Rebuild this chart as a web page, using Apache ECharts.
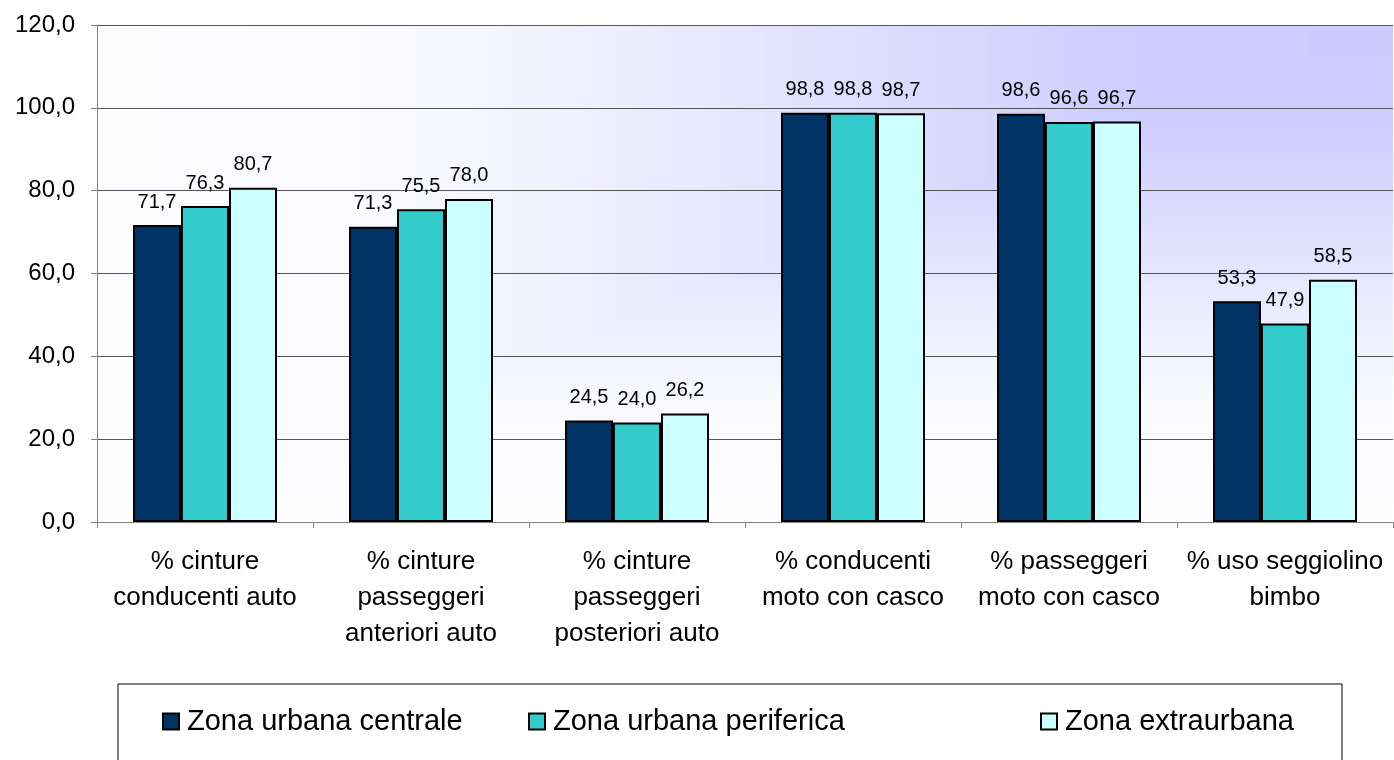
<!DOCTYPE html>
<html lang="it">
<head>
    <meta charset="UTF-8">
    <title>Uso dispositivi di sicurezza</title>
    <script src="https://cdn.jsdelivr.net/npm/echarts@6/dist/echarts.min.js"></script>
    <style>
        html, body { margin: 0; padding: 0; background: #fff; }
        #chart { width: 1394px; height: 760px; }
    </style>
</head>
<body>
<div id="chart"></div>
<script>
    // dati
    const categories = [
        '% cinture\nconducenti auto',
        '% cinture\npasseggeri\nanteriori auto',
        '% cinture\npasseggeri\nposteriori auto',
        '% conducenti\nmoto con casco',
        '% passeggeri\nmoto con casco',
        '% uso seggiolino\nbimbo'
    ];
    const seriesNames = ['Zona urbana centrale', 'Zona urbana periferica', 'Zona extraurbana'];
    const urbanaCentrale = [71.7, 71.3, 24.5, 98.8, 98.6, 53.3];
    const urbanaPeriferica = [76.3, 75.5, 24.0, 98.8, 96.6, 47.9];
    const extraurbana = [80.7, 78.0, 26.2, 98.7, 96.7, 58.5];
    const yTicks = [0, 20, 40, 60, 80, 100, 120];

    const colors = ['#003366', '#33cccc', '#ccffff'];
    const fontFamily = '"Liberation Sans", Arial, sans-serif';
    const fmt = v => v.toFixed(1).replace('.', ',');

    // area del grafico (px)
    const plot = { left: 97, top: 25, right: 1393, bottom: 522 };

    // sfondo sfumato "dall'angolo" (in alto a destra lilla, verso il bianco)
    function cornerGradient(w, h) {
        const c = document.createElement('canvas');
        c.width = w; c.height = h;
        const ctx = c.getContext('2d');
        const img = ctx.createImageData(w, h);
        const stops = [[0, 1], [0.2, 0.97], [0.4, 0.66], [0.56, 0.4], [0.75, 0.13], [0.9, 0.06], [1, 0.04]];
        const f = d => {
            for (let i = 1; i < stops.length; i++) {
                if (d <= stops[i][0]) {
                    const a = stops[i - 1], b = stops[i];
                    return a[1] + (b[1] - a[1]) * (d - a[0]) / (b[0] - a[0]);
                }
            }
            return stops[stops.length - 1][1];
        };
        for (let y = 0; y < h; y++) {
            for (let x = 0; x < w; x++) {
                const d = Math.max((w - x) / w, y / h);
                const k = f(d);
                const i = (y * w + x) * 4;
                img.data[i] = Math.round(255 - 51 * k);
                img.data[i + 1] = Math.round(255 - 51 * k);
                img.data[i + 2] = 255;
                img.data[i + 3] = 255;
            }
        }
        ctx.putImageData(img, 0, 0);
        return c;
    }

    const chart = echarts.init(document.getElementById('chart'));

    function makeSeries(name, data, color) {
        return {
            name: name,
            type: 'bar',
            data: data,
            barWidth: 48,
            barGap: '0%',
            itemStyle: { color: color, borderColor: '#000', borderWidth: 2 },
            label: {
                show: true,
                position: 'top',
                distance: 13,
                color: '#000',
                fontSize: 20,
                fontFamily: fontFamily,
                formatter: p => fmt(p.value)
            }
        };
    }

    // una legenda per voce, per posizionarle come nell'originale
    const legendLefts = [162, 528, 1040];

    const option = {
        backgroundColor: '#fff',
        animation: false,
        textStyle: { fontFamily: fontFamily },
        grid: {
            left: plot.left, right: 1394 - plot.right, top: plot.top, bottom: 760 - plot.bottom,
            show: false
        },
        graphic: [{
            type: 'image',
            z: -10,
            silent: true,
            style: {
                image: cornerGradient(plot.right - plot.left, plot.bottom - plot.top),
                x: plot.left, y: plot.top
            }
        }, {
            type: 'rect',
            shape: { x: 118, y: 684, width: 1224, height: 120 },
            style: { fill: '#fff', stroke: '#000', lineWidth: 1 },
            z: -10
        }],
        legend: seriesNames.map((n, i) => ({
            data: [n],
            left: legendLefts[i],
            top: 707,
            itemWidth: 16,
            itemHeight: 16,
            itemGap: 0,
            padding: 0,
            textStyle: { fontSize: 29, color: '#000', fontFamily: fontFamily, padding: [0, 0, 0, 3] },
            icon: 'rect'
        })),
        xAxis: {
            type: 'category',
            data: categories,
            axisLine: { lineStyle: { color: '#808080', width: 1 } },
            axisTick: { show: true, length: 6, interval: 0, lineStyle: { color: '#808080' } },
            axisLabel: {
                interval: 0,
                margin: 22,
                fontSize: 26,
                lineHeight: 36,
                color: '#000',
                fontFamily: fontFamily
            },
            splitLine: { show: false }
        },
        yAxis: {
            type: 'value',
            min: yTicks[0],
            max: yTicks[yTicks.length - 1],
            interval: 20,
            axisLine: { show: true, lineStyle: { color: '#808080', width: 1 } },
            axisTick: { show: true, length: 6, lineStyle: { color: '#808080' } },
            axisLabel: {
                margin: 22,
                fontSize: 24,
                color: '#000',
                fontFamily: fontFamily,
                formatter: v => fmt(v)
            },
            splitLine: { lineStyle: { color: '#555', width: 1 } }
        },
        series: [
            makeSeries(seriesNames[0], urbanaCentrale, colors[0]),
            makeSeries(seriesNames[1], urbanaPeriferica, colors[1]),
            makeSeries(seriesNames[2], extraurbana, colors[2])
        ]
    };

    chart.setOption(option);
</script>
</body>
</html>
